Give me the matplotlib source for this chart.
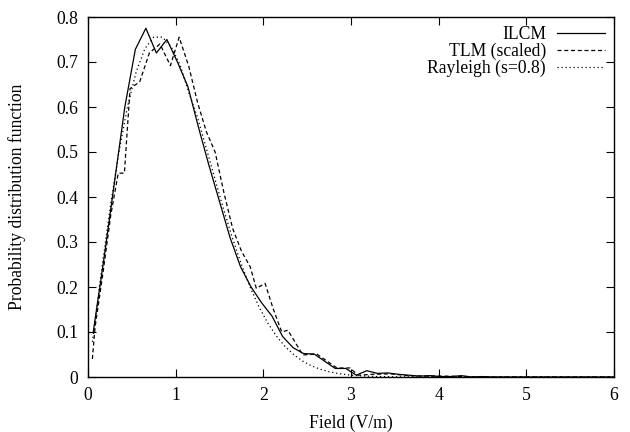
import matplotlib
matplotlib.use("Agg")
import matplotlib.pyplot as plt

# ILCM (solid)
ilcm_x = [0.06, 0.18, 0.30, 0.42, 0.54, 0.66, 0.78, 0.90, 1.02, 1.14, 1.26, 1.38,
          1.50, 1.62, 1.74, 1.86, 1.98, 2.10, 2.22, 2.34, 2.46, 2.58, 2.70, 2.82,
          2.94, 3.06, 3.18, 3.30, 3.42, 3.54, 3.66, 3.78, 3.90, 4.02, 4.14, 4.26,
          4.38, 4.50, 4.62, 4.80, 5.00, 5.50, 6.00]
ilcm_y = [0.10, 0.26, 0.43, 0.60, 0.728, 0.775, 0.72, 0.75, 0.70, 0.645, 0.555, 0.47,
          0.39, 0.31, 0.245, 0.20, 0.165, 0.135, 0.09, 0.065, 0.052, 0.051, 0.035, 0.019,
          0.019, 0.004, 0.014, 0.008, 0.009, 0.006, 0.004, 0.002, 0.003, 0.001, 0.001, 0.003,
          0.000, 0.001, 0.000, 0.000, 0.000, 0.000, 0.000]

# TLM scaled (dashed)
tlm_x = [0.05, 0.08, 0.17, 0.26, 0.345, 0.415, 0.48, 0.59, 0.70, 0.82, 0.94, 1.04,
         1.15, 1.25, 1.35, 1.45, 1.55, 1.65, 1.75, 1.85, 1.92, 2.02, 2.11, 2.21,
         2.28, 2.45, 2.61, 2.84, 2.99, 3.08, 3.25, 3.45, 3.65, 3.85, 4.05, 4.25,
         4.50, 5.00, 5.50, 6.00]
tlm_y = [0.04, 0.11, 0.23, 0.36, 0.453, 0.453, 0.641, 0.656, 0.72, 0.74, 0.692, 0.755,
         0.69, 0.61, 0.545, 0.50, 0.41, 0.33, 0.28, 0.245, 0.197, 0.208, 0.153, 0.10,
         0.104, 0.049, 0.051, 0.02, 0.02, 0.004, 0.006, 0.007, 0.003, 0.002, 0.002, 0.001,
         0.000, 0.000, 0.000, 0.000]

# Rayleigh s=0.8 (dotted)
ray_x = [0.05, 0.15, 0.25, 0.35, 0.45, 0.55, 0.65, 0.75, 0.85, 0.95, 1.05, 1.15,
         1.25, 1.35, 1.45, 1.55, 1.65, 1.75, 1.85, 1.95, 2.05, 2.15, 2.25, 2.35,
         2.45, 2.55, 2.65, 2.75, 2.85, 2.95, 3.05, 3.25, 3.50, 4.00, 5.00, 6.00]
ray_y = [0.0780, 0.2303, 0.3720, 0.4970, 0.6002, 0.6785, 0.7301, 0.7552, 0.7553, 0.7334,
         0.6933, 0.6322, 0.5762, 0.5079, 0.4383, 0.3706, 0.3073, 0.2500, 0.1994, 0.1562,
         0.1201, 0.0908, 0.0673, 0.0491, 0.0352, 0.0248, 0.0172, 0.0117, 0.0078, 0.0051,
         0.0033, 0.0013, 0.0004, 0.0000, 0.0000, 0.0000]

x_ticks = [0, 1, 2, 3, 4, 5, 6]
y_ticks = [0, 0.1, 0.2, 0.3, 0.4, 0.5, 0.6, 0.7, 0.8]
y_tick_labels = ["0", "0.1", "0.2", "0.3", "0.4", "0.5", "0.6", "0.7", "0.8"]

FS = 12.7
plt.rcParams['font.family'] = ['Liberation Serif', 'DejaVu Serif']
plt.rcParams['font.size'] = FS

fig = plt.figure(figsize=(6.3, 4.32), dpi=100)
ax = fig.add_axes([88/630, 55/432, 526/630, 360/432])

lw = 0.9
ax.plot(ilcm_x, ilcm_y, color='black', lw=lw, linestyle='-', label='ILCM')
ax.plot(tlm_x, tlm_y, color='black', lw=lw, linestyle=(0, (3.2, 2.2)), label='TLM (scaled)')
ax.plot(ray_x, ray_y, color='black', lw=lw, linestyle=(0, (1, 2.2)), label='Rayleigh (s=0.8)')

ax.set_xlim(0, 6)
ax.set_ylim(0, 0.8)
ax.set_xticks(x_ticks)
ax.set_yticks(y_ticks)
ax.set_yticklabels(y_tick_labels)
ax.tick_params(direction='in', length=6, width=0.8, top=True, right=True, pad=7,
               labelsize=FS)
for s in ax.spines.values():
    s.set_linewidth(1.0)

ax.set_xlabel('Field (V/m)', fontsize=FS, labelpad=8)
ax.set_ylabel('Probability distribution function', fontsize=FS, labelpad=22)

leg = ax.legend(loc='upper right', frameon=False, markerfirst=False,
                handlelength=2.75, handletextpad=0.6, labelspacing=0.0,
                borderaxespad=0.1, borderpad=0.4, fontsize=FS)

fig.savefig('out.png', dpi=100)
